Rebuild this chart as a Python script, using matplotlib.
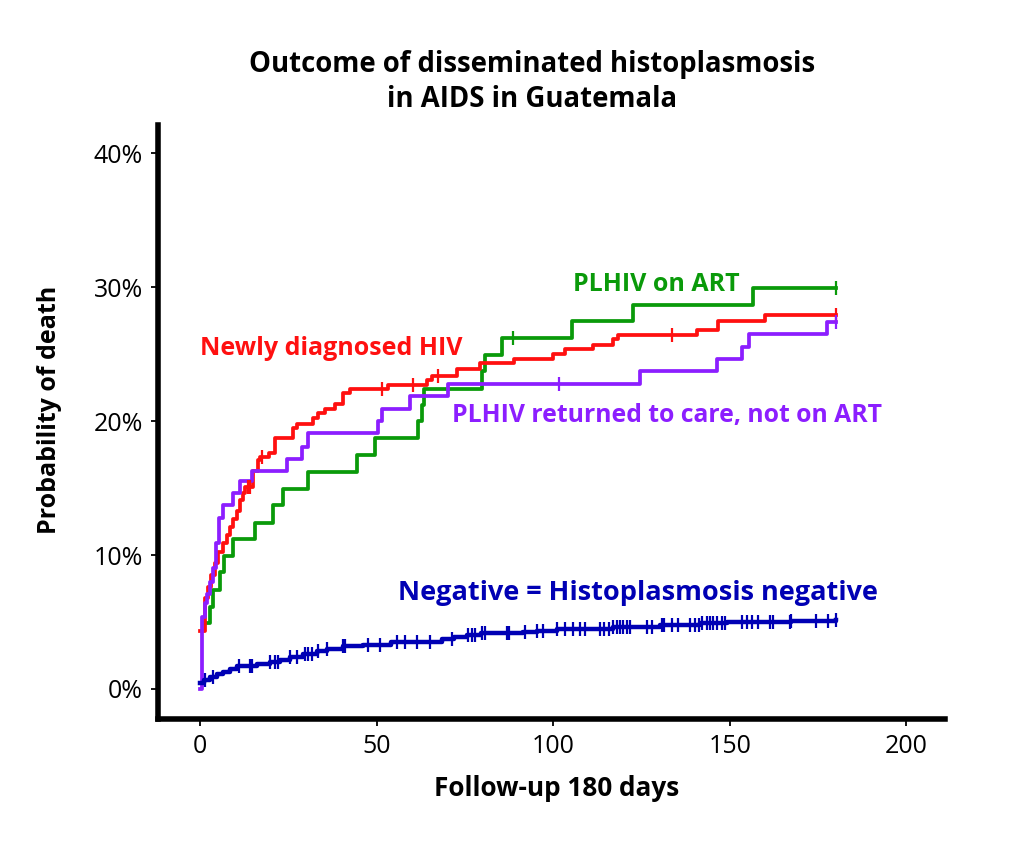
import matplotlib
matplotlib.use("Agg")
import matplotlib.pyplot as plt

plt.rcParams['font.family'] = ['Open Sans', 'DejaVu Sans']

# Curvas Kaplan-Meier (dias, % de muerte)
red_t = [0, 1.4, 2.4, 3.2, 4.2, 5.2, 6.6, 7.6, 8.5, 9.4, 10.4, 11.3, 12.1, 12.7, 15.1, 16.5, 17.0,
         19.4, 21.2, 26.4, 27.6, 32.1, 33.5, 35.4, 38.2, 40.6, 42.5, 53.3, 64.2, 65.6, 72.7, 79.3,
         88.8, 100.1, 103.4, 111.4, 117.1, 118.5, 140.7, 146.8, 160.0, 180]
red_v = [4.3, 6.8, 7.6, 8.5, 9.4, 10.2, 10.9, 11.5, 12.1, 12.7, 13.3, 14.1, 14.6, 15.1, 16.3, 17.1, 17.3,
         17.6, 18.7, 19.5, 19.8, 20.2, 20.6, 20.9, 21.3, 22.1, 22.4, 22.7, 23.1, 23.4, 23.9, 24.3,
         24.6, 25.0, 25.4, 25.7, 26.1, 26.4, 26.8, 27.5, 27.9, 27.9]
red_cens = [13.6, 14.2, 17.5, 51.5, 60.4, 67.5, 133.6, 180]

green_t = [1.2, 2.8, 3.6, 5.7, 6.8, 9.4, 15.6, 20.6, 23.6, 30.7, 44.4, 49.6, 61.7, 62.8, 63.5,
           80.0, 80.8, 85.6, 105.4, 122.7, 156.6, 180]
green_v = [4.9, 6.1, 7.4, 8.7, 9.9, 11.2, 12.4, 13.7, 14.9, 16.2, 17.5, 18.7, 20.0, 21.2, 22.4,
           23.7, 24.9, 26.2, 27.5, 28.7, 29.9, 29.9]
green_cens = [88.7, 180]

purple_t = [0, 0.5, 1.4, 2.1, 2.8, 3.6, 4.5, 5.5, 6.6, 9.4, 11.3, 14.6, 24.6, 28.8, 30.7, 50.5,
            51.5, 59.5, 70.3, 124.6, 146.4, 153.4, 155.6, 177.5, 180]
purple_v = [0, 5.4, 6.4, 7.1, 8.0, 9.0, 10.9, 12.8, 13.7, 14.6, 15.5, 16.3, 17.2, 18.1, 19.1, 20.0,
            20.9, 21.9, 22.8, 23.7, 24.6, 25.5, 26.5, 27.4, 27.4]
purple_cens = [101.7, 180]

blue_t = [0, 1.0, 2.8, 4.7, 6.6, 8.5, 10.4, 16, 19.8, 22.6, 25.5, 29.2, 33, 35.9, 40.6, 46.3, 54,
          68.5, 71.8, 75.6, 79.6, 91.5, 95.4, 101, 109.5, 117, 123.2, 130.3, 141.6, 149.2, 167.4, 180]
blue_v = [0.42, 0.67, 0.87, 1.1, 1.3, 1.5, 1.7, 1.9, 2.05, 2.2, 2.4, 2.6, 2.8, 3.0, 3.2, 3.3, 3.5,
          3.7, 3.9, 4.0, 4.15, 4.25, 4.35, 4.45, 4.5, 4.6, 4.65, 4.75, 4.9, 5.0, 5.1, 5.15]
blue_cens = [1.4, 3.8, 10.9, 14.2, 14.6, 19.8, 21.2, 22.2, 25.5, 27.4, 29.7, 30.7, 31.6, 33.5, 35.9,
             40.6, 41.1, 47.7, 51.0, 55.7, 58.1, 61.4, 65.2, 71.3, 76.0, 77.0, 77.9, 79.8, 80.7,
             86.9, 87.6, 92.1, 95.4, 97.2, 101.0, 103.4, 105.7, 107.6, 109.1, 113.3, 114.4, 115.7,
             117.1, 118.0, 119.0, 119.9, 120.9, 121.8, 126.5, 128.0, 130.8, 131.3, 133.6, 135.5,
             138.8, 140.2, 141.2, 142.1, 143.5, 144.5, 145.4, 146.4, 147.8, 148.7, 153.4, 154.8,
             156.3, 158.1, 161.4, 162.4, 167.1, 167.5, 174.6, 177.9, 180]

x_ticks = [0, 50, 100, 150, 200]
y_ticks = [0, 10, 20, 30, 40]
y_labels = ['0%', '10%', '20%', '30%', '40%']

c_red = '#ff1010'
c_green = '#0a9a0a'
c_purple = '#8c1eff'
c_blue = '#0000b4'

fig = plt.figure(figsize=(10.24, 8.49), dpi=100)
ax = fig.add_axes([158 / 1024, 1 - 719 / 849, (945 - 158) / 1024, (719 - 125) / 849])


def valor_en(ts, vs, t):
    # valor de la curva escalonada en el tiempo t
    v = vs[0]
    for ti, vi in zip(ts, vs):
        if ti <= t:
            v = vi
    return v


def curva(ts, vs, cens, color, lw):
    ax.step(ts, vs, where='post', color=color, lw=lw, zorder=3)
    ax.plot(cens, [valor_en(ts, vs, c) for c in cens], ls='none', marker='|',
            ms=10, mew=1.6, color=color, zorder=4)


curva(green_t, green_v, green_cens, c_green, 2.7)
curva(red_t, red_v, red_cens, c_red, 2.7)
curva(purple_t, purple_v, purple_cens, c_purple, 2.7)
curva(blue_t, blue_v, blue_cens, c_blue, 3.2)

ax.set_xlim(-11.9, 211)
ax.set_ylim(-2.24, 42.1)
ax.set_xticks(x_ticks)
ax.set_yticks(y_ticks)
ax.set_yticklabels(y_labels)
ax.tick_params(labelsize=18, width=1.3, length=5, pad=6)

for s in ['top', 'right']:
    ax.spines[s].set_visible(False)
for s in ['left', 'bottom']:
    ax.spines[s].set_linewidth(4)

# Etiquetas de las curvas
ax.text(0, 25.4, 'Newly diagnosed HIV', color=c_red, fontsize=18, fontweight='bold', va='center')
ax.text(105.7, 30.2, 'PLHIV on ART', color=c_green, fontsize=18, fontweight='bold', va='center')
ax.text(71.4, 20.4, 'PLHIV returned to care, not on ART', color=c_purple, fontsize=17.8,
        fontweight='bold', va='center')
ax.text(56.1, 7.2, 'Negative = Histoplasmosis negative', color=c_blue, fontsize=19.5,
        fontweight='bold', va='center')

fig.text(532 / 1024, 1 - 82 / 849, 'Outcome of disseminated histoplasmosis\nin AIDS in Guatemala',
         ha='center', va='center', fontsize=19.8, fontweight='bold', linespacing=1.25)
fig.text(50 / 1024, 1 - 410 / 849, 'Probability of death', rotation=90, ha='center', va='center',
         fontsize=18, fontweight='bold')
fig.text(557 / 1024, 1 - 789 / 849, 'Follow-up 180 days', ha='center', va='center',
         fontsize=18.8, fontweight='bold')

fig.savefig('out.png', dpi=100)
